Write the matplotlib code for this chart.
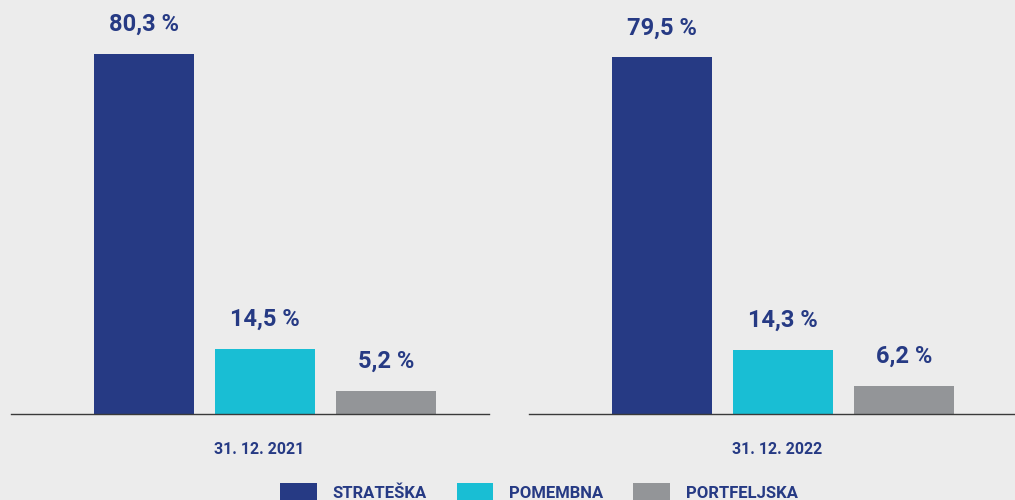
import matplotlib.pyplot as plt
from matplotlib.patches import Patch

plt.rcParams['font.family'] = ['Roboto', 'DejaVu Sans']

dates = ['31. 12. 2021', '31. 12. 2022']
categories = ['STRATEŠKA', 'POMEMBNA', 'PORTFELJSKA']
values_2021 = [80.3, 14.5, 5.2]
values_2022 = [79.5, 14.3, 6.2]
colors = ['#263a84', '#19bed4', '#939598']
text_color = '#263a84'
bg = '#ececec'

fig = plt.figure(figsize=(10.15, 5), dpi=100, facecolor=bg)
ax1 = fig.add_axes([11 / 1015, 86 / 500, 478 / 1015, 414 / 500])
ax2 = fig.add_axes([529 / 1015, 86 / 500, 486 / 1015, 414 / 500])

x = range(len(categories))
for ax, vals, date, xr in [(ax1, values_2021, dates[0], 2.85), (ax2, values_2022, dates[1], 2.92)]:
    ax.set_facecolor(bg)
    bars = ax.bar(x, vals, width=0.83, color=colors)
    for b, v in zip(bars, vals):
        ax.annotate(f'{v:.1f} %'.replace('.', ','), (b.get_x() + b.get_width() / 2, v),
                    xytext=(0, 13), textcoords='offset points', ha='center', va='bottom',
                    fontsize=17, fontweight='bold', color=text_color)
    ax.set_xlim(-1.1, xr)
    ax.set_ylim(0, 92.3)
    for s in ['top', 'right', 'left']:
        ax.spines[s].set_visible(False)
    ax.spines['bottom'].set_color('#3a3a3a')
    ax.spines['bottom'].set_linewidth(1.0)
    ax.set_yticks([])
    ax.set_xticks([0.95])
    ax.set_xticklabels([date], fontsize=11.5, fontweight='bold', color=text_color)
    ax.tick_params(axis='x', length=0, pad=20)

handles = [Patch(facecolor=c, edgecolor='none') for c in colors]
fig.legend(handles, categories, loc='lower center', bbox_to_anchor=(0.531, -0.032), ncol=3,
           frameon=False, handlelength=2.2, handleheight=1.3,
           handletextpad=0.95, columnspacing=1.8, labelcolor=text_color,
           prop={'weight': 'bold', 'size': 12})

fig.savefig('out.png', dpi=100, facecolor=bg)
